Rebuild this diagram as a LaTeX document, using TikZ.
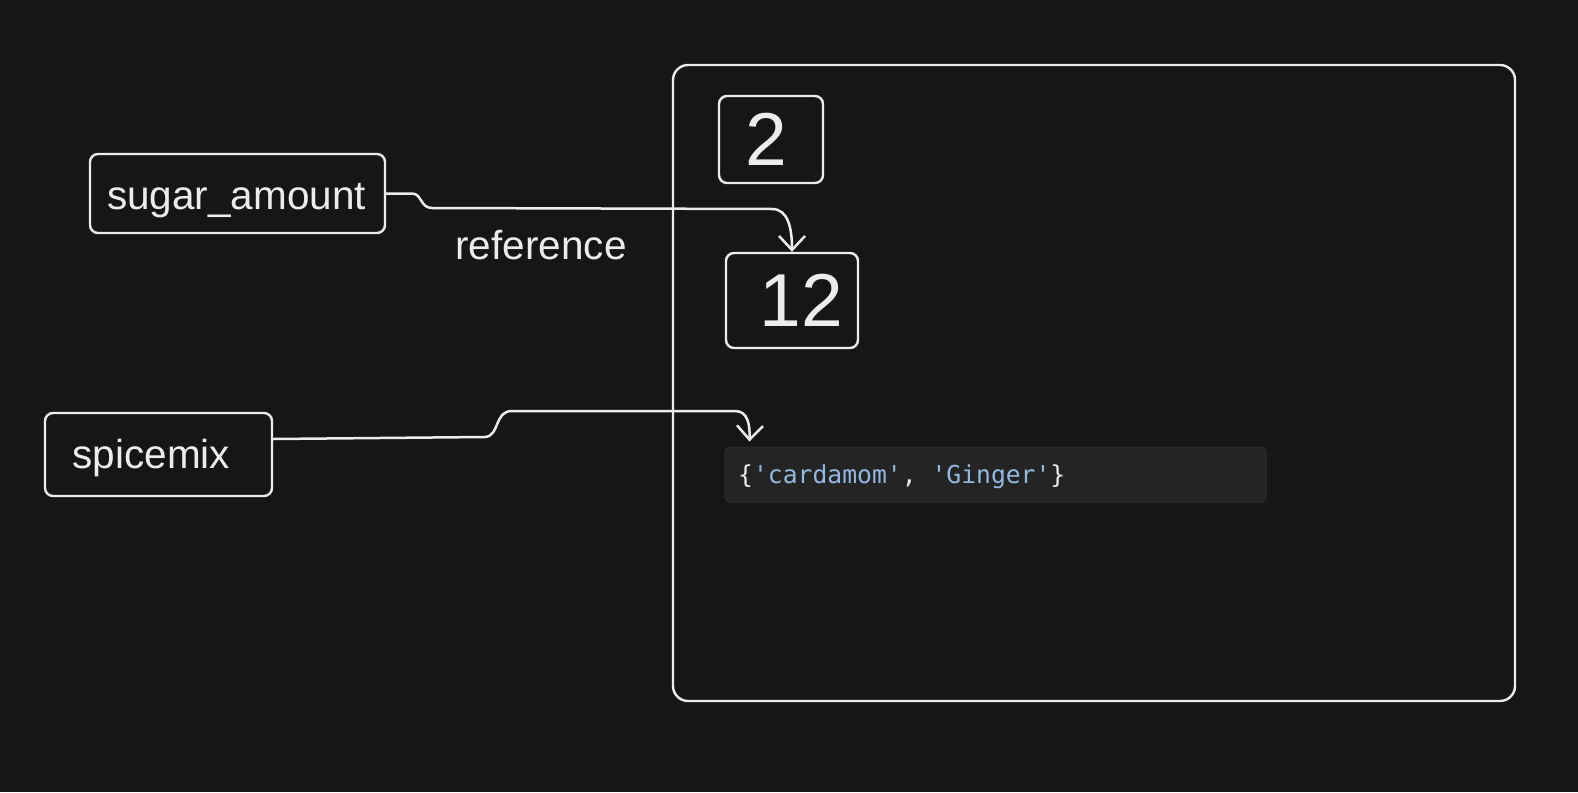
\documentclass[tikz,border=0pt]{standalone}
\usepackage{fontspec}
\setmainfont{Liberation Sans}
\newfontfamily\codefont{DejaVu Sans Mono}
\usetikzlibrary{arrows.meta,calc}
\definecolor{bg}{HTML}{161616}
\definecolor{ink}{HTML}{ECECEC}
\definecolor{codebg}{HTML}{242424}
\definecolor{codeedge}{HTML}{2E2E2E}
\definecolor{strblue}{HTML}{93B9E3}
\tikzset{
  sketch/.style={draw=ink, line width=2.4pt, rounded corners=8pt, inner sep=0pt, text=ink},
  label40/.style={font=\fontsize{40.5}{44}\selectfont},
  digit/.style={font=\fontsize{75}{80}\selectfont},
  conn/.style={draw=ink, line width=2.5pt, line cap=round, line join=round,
    -{Straight Barb[length=14pt,width=26pt,line width=2.5pt]}},
}
\begin{document}
\begin{tikzpicture}[x=1pt,y=-1pt]
\fill[bg] (0,0) rectangle (1578,792);
\useasboundingbox (0,0) rectangle (1578,792);
% frame
\node[sketch, rounded corners=15pt, minimum width=842pt, minimum height=636pt] (frame) at (1094,383) {};
% variables
\node[sketch, label40, minimum width=295pt, minimum height=79pt] (sugar) at (237.5,193.5) {\raisebox{-7pt}[\height][\depth]{sugar\_amount}\hspace*{2pt}};
\node[sketch, label40, minimum width=227pt, minimum height=83pt] (spice) at (158.5,454.5) {\raisebox{-4pt}[\height][\depth]{spicemix}\hspace*{14pt}};
% values
\node[sketch, digit, minimum width=104pt, minimum height=87pt] (two) at (771,139.5) {2\hspace*{10pt}};
\node[sketch, digit, minimum width=132pt, minimum height=95pt] (twelve) at (792,300.5) {\hspace*{18pt}12};
\node[draw=codeedge, fill=codebg, line width=1pt, rounded corners=6pt, minimum width=541pt, minimum height=55pt, inner sep=0pt] (code) at (995.5,474.5) {};
\node[anchor=west, inner sep=0pt, font=\codefont\fontsize{24.7}{28}\selectfont, text=ink] (codetext) at (738,477) {\{\textcolor{strblue}{'cardamom'}, \textcolor{strblue}{'Ginger'}\}};
% label
\node[label40, text=ink, inner sep=0pt] (reflabel) at (541,245) {reference};
% connectors
\draw[conn] (sugar.east) -- (412,193.5) .. controls (422,193.5) and (420,208) .. (432,208) -- (772,209) .. controls (788,209) and (792,228) .. (twelve.north);
\draw[conn] ([yshift=15.5pt]spice.east) -- (485,437) .. controls (500,436) and (494,411) .. (512,411) -- (735,411) .. controls (748,411) and (750,425) .. ([xshift=25pt,yshift=5pt]code.north west);
\end{tikzpicture}
\end{document}
